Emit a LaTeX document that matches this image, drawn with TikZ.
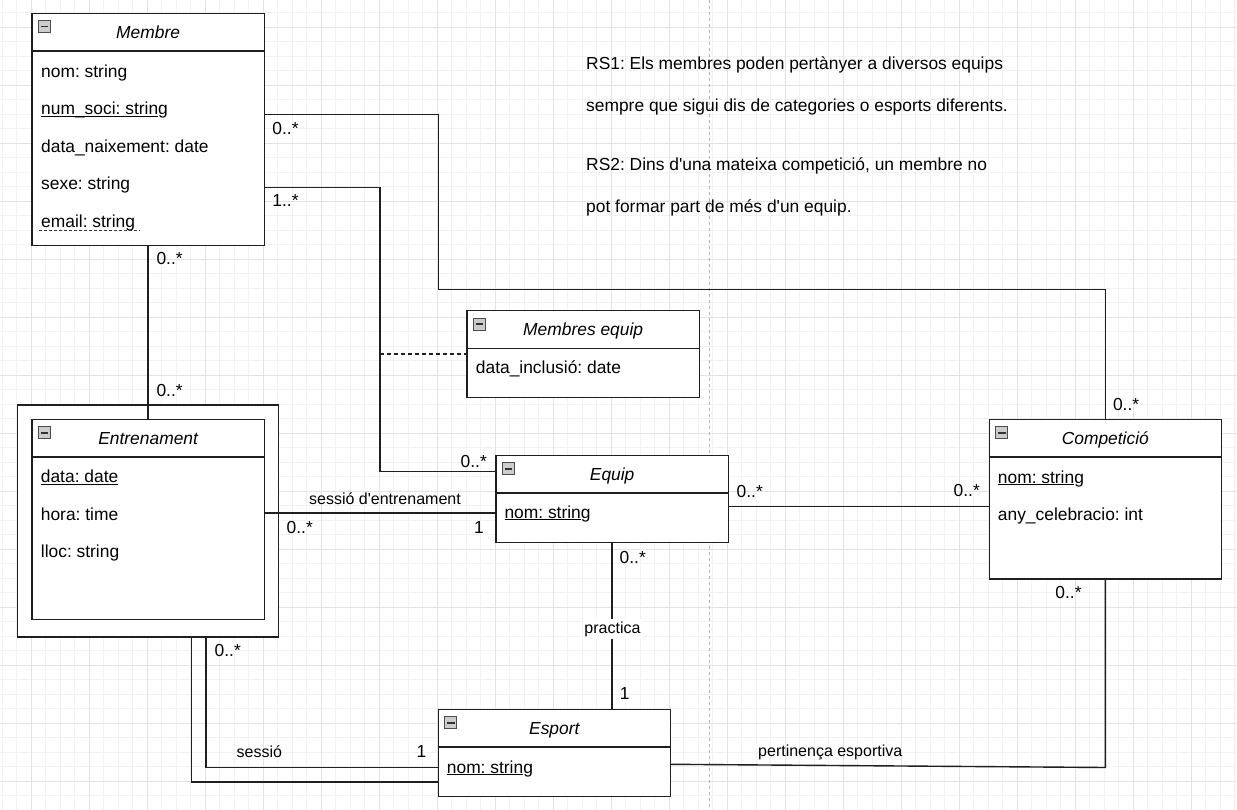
\documentclass[tikz,border=0pt]{standalone}
\usepackage{fontspec}
\setmainfont{Liberation Sans}[Ligatures=TeXOff]
\usetikzlibrary{calc}
\frenchspacing
\newcommand\attrfont{\fontsize{17.4}{20}\selectfont}
\newcommand\lblfont{\fontsize{16}{19}\selectfont}
% underline drawn through the descender line, as in the class boxes
\newcommand\keyline[2]{\setbox0\hbox{#1}\rlap{\rule[-1.9pt]{\wd0}{1.1pt}}\box0#2}
\begin{document}
\begin{tikzpicture}[x=1pt,y=-1pt,
  classbox/.style={draw=black!88, line width=1.4pt, fill=white, rectangle,
    inner sep=0pt, outer sep=0pt, anchor=north west},
  sepline/.style={draw=black!88, line width=1.4pt},
  conn/.style={draw=black!88, line width=1.4pt},
  hdr/.style={anchor=base, inner sep=0pt, font=\attrfont\itshape},
  attr/.style={anchor=base west, inner sep=0pt, font=\attrfont},
  mult/.style={anchor=base west, inner sep=0pt, font=\attrfont},
  rel/.style={anchor=base west, inner sep=0pt, font=\lblfont},
  note/.style={anchor=base west, inner sep=0pt, font=\attrfont},
  minorgrid/.style={draw=black!5, line width=0.9pt},
  majorgrid/.style={draw=black!11, line width=0.9pt},
  collapseicon/.pic={
    \draw[draw=gray!60!black, fill=gray!40, line width=0.7pt] (0,0) rectangle (12,12);
    \draw[black!80, line width=1.8pt] (2.3,6) -- (9.7,6);
  }
]
\useasboundingbox (0,0) rectangle (1237,810);
\fill[white] (0,0) rectangle (1237,810);

% background grid
\foreach \i in {0,...,85} \draw[minorgrid] ({2.3+14.5*\i},0) -- ({2.3+14.5*\i},810);
\foreach \i in {0,...,55} \draw[minorgrid] (0,{12.8+14.5*\i}) -- (1237,{12.8+14.5*\i});
\foreach \i in {0,...,21} \draw[majorgrid] ({31.3+58*\i},0) -- ({31.3+58*\i},810);
\foreach \i in {0,...,13} \draw[majorgrid] (0,{27.3+58*\i}) -- (1237,{27.3+58*\i});
% page break
\draw[gray!60, line width=0.8pt, dash pattern=on 3pt off 3pt] (709.3,0) -- (709.3,810);

% ---- Membre
\node[classbox, minimum width=232.3pt, minimum height=232pt] (membre) at (32,13.3) {};
\draw[sepline] (membre.west |- 0,51) -- (membre.east |- 0,51);
\pic at (38.5,20.6) {collapseicon};
\node[hdr] (membreT) at (membre.north |- 0,38.7) {Membre};
\node[attr] (m1) at (41,77.3) {nom: string};
\node[attr] (m2) at (41,115) {\keyline{num\_soci: strin}{g}};
\node[attr] (m3) at (41,152.3) {data\_naixement: date};
\node[attr] (m4) at (41,190) {sexe: string};
\node[attr] (m5) at (41,227.7) {email: string};
\draw[black!80, line width=1pt, dash pattern=on 3pt off 2pt]
  ([shift={(-2,3)}]m5.base west) -- ([shift={(4,3)}]m5.base east);

% ---- Entrenament (double frame)
\node[classbox, minimum width=261.4pt, minimum height=232pt] (entrframe) at (17.3,405) {};
\node[classbox, minimum width=232.3pt, minimum height=200.4pt] (entr) at (32,419.3) {};
\draw[sepline] (entr.west |- 0,457) -- (entr.east |- 0,457);
\pic at (38.5,426.6) {collapseicon};
\node[hdr] (entrT) at (entr.north |- 0,444.3) {Entrenament};
\node[attr] (e1) at (40.7,482.7) {\keyline{data: date}{}};
\node[attr] (e2) at (40.7,520.3) {hora: time};
\node[attr] (e3) at (40.7,557.7) {lloc: string};

% ---- Membres equip
\node[classbox, minimum width=232.3pt, minimum height=87pt] (mequip) at (467,310.7) {};
\draw[sepline] (mequip.west |- 0,348.3) -- (mequip.east |- 0,348.3);
\pic at (473.5,318) {collapseicon};
\node[hdr] (mequipT) at (mequip.north |- 0,335.3) {Membres equip};
\node[attr] (q1) at (475.7,373.3) {data\_inclusió: date};

% ---- Equip
\node[classbox, minimum width=232.3pt, minimum height=87pt] (equip) at (496,455.3) {};
\draw[sepline] (equip.west |- 0,493) -- (equip.east |- 0,493);
\pic at (502.5,462.6) {collapseicon};
\node[hdr] (equipT) at (equip.north |- 0,480.3) {Equip};
\node[attr] (eq1) at (504.3,518.3) {\keyline{nom: strin}{g}};

% ---- Competició
\node[classbox, minimum width=232pt, minimum height=159.7pt] (comp) at (989.3,419.3) {};
\draw[sepline] (comp.west |- 0,457) -- (comp.east |- 0,457);
\pic at (995.8,426.6) {collapseicon};
\node[hdr] (compT) at (comp.north |- 0,444.3) {Competició};
\node[attr] (c1) at (997.7,483.3) {\keyline{nom: strin}{g}};
\node[attr] (c2) at (997.7,520.7) {any\_celebracio: int};

% ---- Esport
\node[classbox, minimum width=232pt, minimum height=87pt] (esport) at (438.3,709.3) {};
\draw[sepline] (esport.west |- 0,747) -- (esport.east |- 0,747);
\pic at (444.8,716.6) {collapseicon};
\node[hdr] (esportT) at (esport.north |- 0,734.3) {Esport};
\node[attr] (s1) at (446.7,773) {\keyline{nom: strin}{g}};

% ---- associations
\draw[conn] (membre.east |- 0,114.5) -- (438.3,114.5) -- (438.3,289.5) -- (comp.north |- 0,289.5) -- (comp.north);
\draw[conn] (membre.east |- 0,187.3) -- (380,187.3) -- (380,471.3) -- (equip.west |- 0,471.3);
\coordinate (assoc) at (380,354);
\draw[black!88, line width=1.2pt, dash pattern=on 4pt off 3pt] (assoc) -- (mequip.west |- assoc);
\draw[conn] (membre.south) -- (entr.north);
\draw[conn] (entr.east |- 0,513) -- (equip.west |- 0,513);
\draw[conn] (equip.east |- 0,506.5) -- (comp.west |- 0,506.5);
\draw[conn] (equip.south) -- (esport.north -| equip.south);
\draw[conn] (entrframe.south -| 205.8,0) -- (205.8,767.3) -- (esport.west |- 0,767.3);
\draw[conn] (entrframe.south -| 191.7,0) -- (191.7,782) -- (esport.west |- 0,782);
\draw[conn] (esport.east |- 0,764.3) -- (comp.south |- 0,767.5) -- (comp.south);

% ---- association labels
\node[anchor=base, inner xsep=1pt, inner ysep=2.5pt, fill=white, font=\lblfont] (lprac) at (612.5,633.3) {practica};
\node[rel] (lsess) at (309,504) {sessió d'entrenament};
\node[rel] (lses2) at (236.5,757.3) {sessió};
\node[rel] (lpert) at (758,756.7) {pertinença esportiva};

% ---- multiplicities
\node[mult] (k1) at (272.2,134.3) {0..*};
\node[mult] (k2) at (272.2,206.7) {1..*};
\node[mult] (k3) at (156.3,265) {0..*};
\node[mult] (k4) at (156.3,396) {0..*};
\node[mult] (k5) at (460.5,467) {0..*};
\node[mult] (k6) at (286.5,533) {0..*};
\node[mult] (k7) at (474,533.3) {1};
\node[mult] (k8) at (736.5,497) {0..*};
\node[mult] (k9) at (953.5,496.7) {0..*};
\node[mult] (k10) at (1112.8,410) {0..*};
\node[mult] (k11) at (1055.2,598.3) {0..*};
\node[mult] (k12) at (619.5,563) {0..*};
\node[mult] (k13) at (619.7,699.3) {1};
\node[mult] (k14) at (214.5,656.7) {0..*};
\node[mult] (k15) at (416.3,757.3) {1};

% ---- notes
\node[note] (rs1a) at (586,70) {RS1: Els membres poden pertànyer a diversos equips};
\node[note] (rs1b) at (586,111.7) {sempre que sigui dis de categories o esports diferents.};
\node[note] (rs2a) at (586,171) {RS2: Dins d'una mateixa competició, un membre no};
\node[note] (rs2b) at (586,212.7) {pot formar part de més d'un equip.};
\end{tikzpicture}
\end{document}
